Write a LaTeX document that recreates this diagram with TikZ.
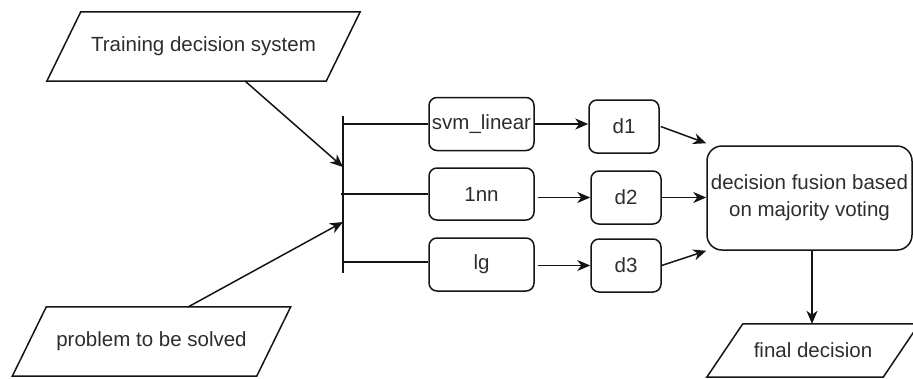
\documentclass[tikz,border=0pt]{standalone}
\usepackage{fontspec}
\setmainfont{Liberation Sans}
\usetikzlibrary{arrows.meta,calc}

\definecolor{ink}{RGB}{20,20,20}
\definecolor{txt}{RGB}{45,45,45}

\tikzset{
  every node/.style={font=\fontsize{20.5}{27}\selectfont, text=txt, inner sep=0pt},
  edge/.style={draw=ink, line width=1.5pt},
  arr/.style={edge, -{Stealth[length=13pt,width=11pt,inset=4pt]}},
  rbox/.style={edge, rounded corners=8pt, minimum height=53pt},
  fusebox/.style={edge, rounded corners=15pt, minimum width=205pt, minimum height=104pt, align=center},
  ptext/.style={minimum height=#1},
  ptext/.default=69pt,
}

% slanted input/output box drawn round a text node, slant s
\newcommand\slantbox[2]{%
  \draw[edge, line join=miter]
    ($(#1.south west)+(-#2/2,0)$) -- ($(#1.south east)+(-#2/2,0)$) --
    ($(#1.north east)+(#2/2,0)$) -- ($(#1.north west)+(#2/2,0)$) -- cycle;}

\begin{document}
\begin{tikzpicture}[x=1pt, y=-1pt]
  \useasboundingbox (0,0) rectangle (913,378);

  % inputs
  \node[ptext, minimum width=279pt] (train) at (203.5,46.5) {Training decision system};
  \slantbox{train}{34pt}
  \node[ptext, minimum width=244pt] (problem) at (151.5,341.5) {problem to be solved};
  \slantbox{problem}{34pt}

  % splitter bar
  \coordinate (bartop) at (343,116);
  \coordinate (barbot) at (343,273);
  \draw[edge] (bartop) -- (barbot);

  % classifiers
  \node[rbox, minimum width=105pt] (svm) at (481.5,124) {svm\_linear};
  \node[rbox, minimum width=105pt, minimum height=52pt] (knn) at (481.5,194) {1nn};
  \node[rbox, minimum width=105pt] (lg) at (481.5,264.5) {lg};

  % individual decisions
  \node[rbox, minimum width=70pt] (d1) at (624,126.5) {d1};
  \node[rbox, minimum width=70pt] (d2) at (626,197.5) {d2};
  \node[rbox, minimum width=70pt] (d3) at (626,265.5) {d3};

  % fusion and result
  \node[fusebox] (fusion) at (809.5,198) {decision fusion based\\on majority voting};
  \node[ptext=53pt, minimum width=176pt] (final) at (813,350.5) {final decision};
  \slantbox{final}{36pt}

  % inputs into the splitter
  \coordinate (trainout) at (245,81);
  \coordinate (probout) at (188,307);
  \coordinate (trainin) at (343,167);
  \coordinate (probin) at (343,222);
  \draw[arr] (trainout) -- (trainin);
  \draw[arr] (probout) -- (probin);

  % splitter branches
  \draw[edge] (bartop |- svm.west) -- (svm.west);
  \draw[edge] ([xshift=-2pt]bartop |- knn.west) -- (knn.west);
  \draw[edge] (bartop |- 343,262) -- (lg.west |- 343,262);

  % classifiers to decisions
  \draw[arr] (svm.east) -- (svm.east -| d1.west);
  \draw[arr] ([xshift=3pt]d2.west -| knn.east) -- (d2.west);
  \draw[arr] ([xshift=3pt]lg.east |- d3.west) -- (d3.west);

  % decisions to fusion
  \draw[arr] ([xshift=1pt]d1.east) -- ([yshift=2pt]fusion.north west);
  \draw[arr] (d2.east) -- (d2.east -| fusion.west);
  \draw[arr] (d3.east) -- (fusion.south west);

  % fusion to final decision
  \draw[arr] ([xshift=2.5pt]fusion.south) -- ([xshift=2.5pt]fusion.south |- final.north);
\end{tikzpicture}
\end{document}
